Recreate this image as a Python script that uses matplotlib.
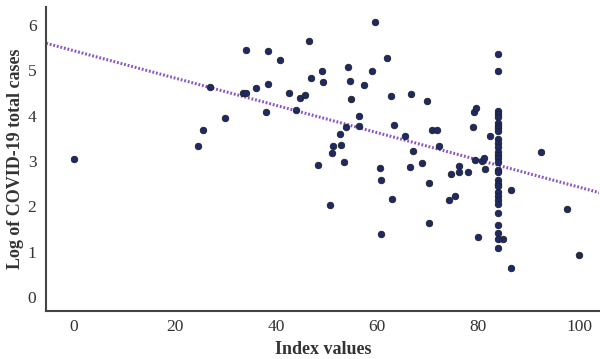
import numpy as np
import matplotlib
matplotlib.use("Agg")
from matplotlib import pyplot as plt

# scattered countries (index value, log of total cases)
index_vals = [0, 24.5, 25.6, 27.0, 29.8, 33.5, 34.1, 34.1, 36.0, 38.1, 38.4, 38.5,
              40.8, 42.6, 43.9, 44.7, 45.8, 46.6, 46.9, 48.3, 49.0, 49.3, 50.7,
              51.1, 51.3, 52.7, 52.8, 53.4, 53.8, 54.3, 54.7, 54.9, 56.5, 56.5,
              57.5, 59.0, 59.6, 60.5, 60.7, 60.7, 62.0, 62.8, 62.9, 63.3, 65.5,
              66.5, 66.7, 67.1, 68.8, 69.9, 70.2, 70.2, 70.9, 71.9, 72.3, 74.3,
              74.6, 75.4, 76.2, 76.3, 77.9, 78.9, 79.2, 79.3, 79.5, 79.9, 80.8,
              81.2, 81.4, 82.4, 85.0, 86.5, 86.6, 92.4, 97.6, 100.0]
log_cases = [3.05, 3.33, 3.68, 4.64, 3.95, 4.50, 4.49, 5.45, 4.61, 4.09, 5.42, 4.70,
             5.22, 4.50, 4.13, 4.39, 4.45, 5.64, 4.84, 2.92, 4.99, 4.75, 2.02,
             3.17, 3.33, 3.60, 3.36, 2.97, 3.75, 5.07, 4.77, 4.37, 3.99, 3.77,
             4.68, 4.99, 6.06, 2.85, 2.58, 1.38, 5.28, 4.43, 2.15, 3.80, 3.55,
             2.86, 4.47, 3.22, 2.95, 4.33, 2.51, 1.63, 3.69, 3.69, 3.33, 2.13,
             2.72, 2.23, 2.88, 2.75, 2.75, 3.74, 4.08, 3.01, 4.17, 1.31, 2.99,
             3.06, 2.83, 3.55, 1.28, 0.63, 2.35, 3.20, 1.94, 0.93]

# stacked column at index value 84
column_x = 84.0
column_vals = [5.36, 4.99, 4.11, 4.04, 3.97, 3.84, 3.77, 3.73, 3.66, 3.49, 3.40,
               3.31, 3.20, 3.13, 3.07, 2.98, 2.80, 2.76, 2.58, 2.49, 2.45, 2.32,
               2.23, 2.14, 2.05, 1.85, 1.59, 1.41, 1.28, 1.08]

# fitted trend line
trend_intercept = 5.43
trend_slope = -0.0301

xs = np.array(index_vals + [column_x] * len(column_vals))
ys = np.array(log_cases + column_vals)

plt.rcParams['font.family'] = ['Liberation Serif', 'DejaVu Serif']

fig = plt.figure(figsize=(6, 3.59), dpi=100)
ax = fig.add_axes([0.077, 0.134, 0.922, 0.847])

xlim = (-5.5, 104)
line_x = np.array(xlim)
ax.plot(line_x, trend_intercept + trend_slope * line_x, color='#8a55c8',
        linewidth=2.2, linestyle=(0, (0.6, 0.6)), zorder=2)
ax.scatter(xs, ys, s=22, color='#1c2a66', edgecolors='#222222',
           linewidths=0.6, zorder=3)

ax.set_xlim(*xlim)
ax.set_ylim(-0.31, 6.4)
ax.set_xticks([0, 20, 40, 60, 80, 100])
ax.set_yticks([0, 1, 2, 3, 4, 5, 6])

for side in ['top', 'right']:
    ax.spines[side].set_visible(False)
for side in ['left', 'bottom']:
    ax.spines[side].set_color('#444444')
    ax.spines[side].set_linewidth(1.5)

ax.tick_params(axis='both', length=0, labelsize=12.5, colors='#333333')
ax.tick_params(axis='x', pad=6)
ax.tick_params(axis='y', pad=7)
ax.set_xlabel("Index values", fontsize=13, fontweight='bold', color='#333333',
              labelpad=4)
ax.set_ylabel("Log of COVID-19 total cases", fontsize=13, fontweight='bold',
              color='#333333', labelpad=3)

plt.savefig("out.png", dpi=100)
